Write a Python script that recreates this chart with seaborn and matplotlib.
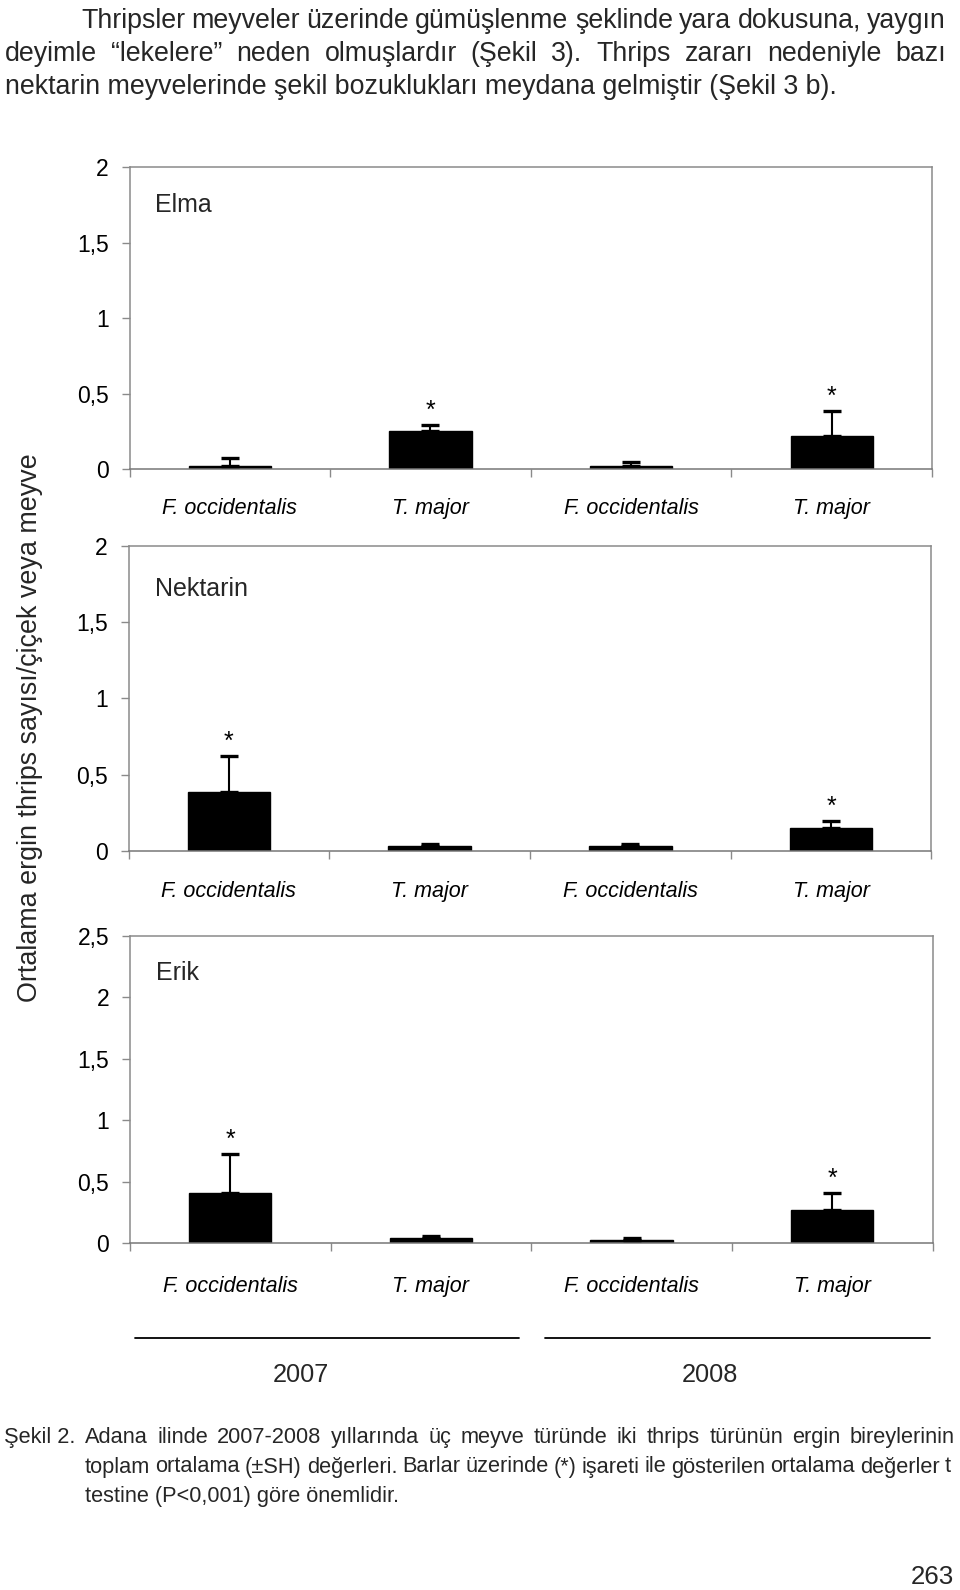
import numpy as np
import pandas as pd
import seaborn as sns
import matplotlib
matplotlib.use("Agg")
import matplotlib.pyplot as plt
from matplotlib.lines import Line2D
from matplotlib.ticker import FixedLocator, FuncFormatter

# ---------------- data ----------------
species = ["F. occidentalis", "T. major", "F. occidentalis", "T. major"]
years = ["2007", "2007", "2008", "2008"]
fruits = ["Elma", "Nektarin", "Erik"]

elma_mean = [0.02, 0.25, 0.02, 0.22]
elma_se = [0.05, 0.04, 0.025, 0.165]
elma_sig = [False, True, False, True]

nektarin_mean = [0.39, 0.035, 0.035, 0.15]
nektarin_se = [0.235, 0.014, 0.014, 0.05]
nektarin_sig = [True, False, False, True]

erik_mean = [0.41, 0.043, 0.027, 0.27]
erik_se = [0.313, 0.014, 0.014, 0.135]
erik_sig = [True, False, False, True]

y_max = [2.0, 2.0, 2.5]
ylabel = "Ortalama ergin thrips sayısı/çiçek veya meyve"

para_line1 = "Thripsler meyveler üzerinde gümüşlenme şeklinde yara dokusuna, yaygın"
para_line2 = "deyimle “lekelere” neden olmuşlardır (Şekil 3). Thrips zararı nedeniyle bazı"
para_line3 = "nektarin meyvelerinde şekil bozuklukları meydana gelmiştir (Şekil 3 b)."
cap_label = "Şekil 2."
cap_line1 = "Adana ilinde 2007-2008 yıllarında üç meyve türünde iki thrips türünün ergin bireylerinin"
cap_line2 = "toplam ortalama (±SH) değerleri. Barlar üzerinde (*) işareti ile gösterilen ortalama değerler t"
cap_line3 = "testine (P<0,001) göre önemlidir."
page_no = "263"

# ---------------- style ----------------
sns.set_theme(style="white")
plt.rcParams["font.family"] = ["Liberation Sans", "DejaVu Sans"]

W, H = 960, 1590
fig = plt.figure(figsize=(W / 100, H / 100), dpi=100)


def fx(x):
    return x / W


def fy(y):
    return 1 - y / H


GRAY = "#8a8a8a"
panels_px = [(129.5, 167, 932, 469), (128.5, 546, 931.5, 851), (130, 936, 932.5, 1243)]
title_px = [(155, 205), (155, 589), (156, 973)]
xlabel_pad = [20.8, 21.5, 23.5]
means = [elma_mean, nektarin_mean, erik_mean]
ses = [elma_se, nektarin_se, erik_se]
sigs = [elma_sig, nektarin_sig, erik_sig]

fmt = FuncFormatter(lambda v, p: f"{v:g}".replace(".", ","))

for i, (l, t, r, b) in enumerate(panels_px):
    ax = fig.add_axes([fx(l), fy(b), (r - l) / W, (b - t) / H])
    keys = [f"{s} {y}" for s, y in zip(species, years)]
    df = pd.DataFrame({"key": keys, "mean": means[i], "se": ses[i]})
    sns.barplot(data=df, x="key", y="mean", order=keys, color="black",
                width=0.41, errorbar=None, saturation=1, ax=ax, edgecolor="black")
    xs = np.arange(len(keys))
    ax.errorbar(xs, df["mean"], yerr=[np.zeros(len(xs)), df["se"]], fmt="none",
                ecolor="black", elinewidth=1.5, capsize=6.5, capthick=2.4, zorder=5)
    for xi, m, s, sg in zip(xs, df["mean"], df["se"], sigs[i]):
        if sg:
            ax.annotate("*", (xi, m + s), xytext=(0, 7), textcoords="offset pixels",
                        ha="center", va="baseline", fontsize=18, color="black")
    ax.set_xlim(-0.5, 3.5)
    ax.set_ylim(0, y_max[i])
    ax.yaxis.set_major_locator(FixedLocator(np.arange(0, y_max[i] + 0.01, 0.5)))
    ax.yaxis.set_major_formatter(fmt)
    ax.set_xticks(xs)
    ax.set_xticklabels(species, fontstyle="italic", fontsize=15.5)
    ax.set_xticks(np.arange(-0.5, 4, 1), minor=True)
    ax.tick_params(axis="x", which="major", length=0, pad=xlabel_pad[i], colors="black")
    ax.tick_params(axis="x", which="minor", length=6, width=1.0, color=GRAY, direction="out", bottom=True)
    ax.tick_params(axis="y", which="major", length=6, width=1.0, color=GRAY, direction="out",
                   left=True, pad=9.0, labelsize=16.5, labelcolor="black")
    ax.set_xlabel("")
    ax.set_ylabel("")
    for sp in ax.spines.values():
        sp.set_visible(True)
        sp.set_color(GRAY)
        sp.set_linewidth(1.1)
    ax.spines["bottom"].set_color("#777777")
    ax.set_facecolor("white")
    tx, ty = title_px[i]
    fig.text(fx(tx), fy(ty), fruits[i], fontsize=18, ha="left", va="center")

# y label
fig.text(fx(30), fy(728), ylabel, rotation=90, ha="center", va="center", fontsize=19.4)

# year lines and labels
fig.add_artist(Line2D([fx(135), fx(519)], [fy(1338), fy(1338)], color="black", lw=1.3))
fig.add_artist(Line2D([fx(545), fx(930)], [fy(1338), fy(1338)], color="black", lw=1.3))
fig.text(fx(301), fy(1375), "2007", ha="center", va="center", fontsize=18.3)
fig.text(fx(710), fy(1375), "2008", ha="center", va="center", fontsize=18.3)

renderer = fig.canvas.get_renderer()


def justify(line, x0, x1, y, size):
    words = line.split(" ")
    texts = [fig.text(0, fy(y), w, fontsize=size, ha="left", va="baseline") for w in words]
    widths = [tt.get_window_extent(renderer).width for tt in texts]
    gap = (x1 - x0 - sum(widths)) / (len(words) - 1)
    x = x0
    for tt, w in zip(texts, widths):
        tt.set_x(fx(x))
        x += w + gap


PS = 19.3
justify(para_line1, 81, 946, 27.5, PS)
justify(para_line2, 5, 946, 61, PS)
fig.text(fx(5), fy(94.5), para_line3, fontsize=PS, ha="left", va="baseline")

CS = 15.7
fig.text(fx(4), fy(1443), cap_label, fontsize=CS, ha="left", va="baseline")
justify(cap_line1, 85, 955, 1443, CS)
justify(cap_line2, 85, 951, 1472.5, CS)
fig.text(fx(85), fy(1502), cap_line3, fontsize=CS, ha="left", va="baseline")

fig.text(fx(954), fy(1584), page_no, fontsize=18.6, ha="right", va="baseline")

fig.savefig("out.png", dpi=100, facecolor="white")
